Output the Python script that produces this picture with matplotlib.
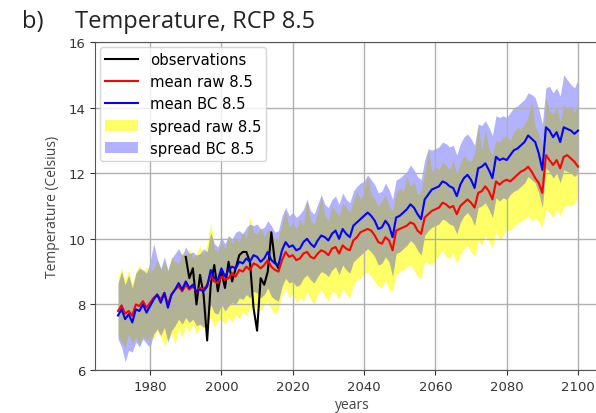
import numpy as np
import matplotlib
matplotlib.use("Agg")
import matplotlib.pyplot as plt

years = np.arange(1971, 2101)
obs_years = np.arange(1990, 2017)

obs = [9.45, 8.8, 9.1, 8.0, 8.9, 8.3, 6.9, 8.6, 9.2, 8.4,
       9.0, 8.5, 9.3, 8.7, 9.1, 9.5, 9.6, 9.6, 9.3, 7.9,
       7.2, 8.8, 8.6, 9.0, 10.2, 9.3, 9.1]

mean_raw = [7.80, 7.97, 7.72, 7.80, 7.65, 8.00, 7.95, 8.10, 7.90, 8.05,
            8.20, 8.30, 8.15, 8.35, 8.00, 8.30, 8.45, 8.55, 8.40, 8.60,
            8.45, 8.55, 8.40, 8.50, 8.45, 8.60, 8.90, 8.70, 8.65, 8.85,
            8.75, 8.80, 8.95, 8.85, 9.05, 9.00, 9.15, 9.05, 9.25, 9.20,
            9.10, 9.20, 9.35, 9.15, 9.05, 9.00, 9.35, 9.60, 9.45, 9.50,
            9.35, 9.40, 9.55, 9.60, 9.45, 9.40, 9.55, 9.65, 9.60, 9.50,
            9.70, 9.75, 9.55, 9.80, 9.70, 9.65, 9.95, 10.05, 10.20, 10.25,
            10.30, 10.25, 10.10, 9.90, 9.85, 10.05, 9.95, 9.65, 10.25, 10.30,
            10.35, 10.40, 10.50, 10.45, 10.25, 10.15, 10.65, 10.75, 10.85, 10.90,
            10.95, 11.10, 11.05, 10.95, 11.00, 10.75, 11.00, 11.10, 11.20, 11.10,
            10.95, 11.40, 11.45, 11.60, 11.45, 11.20, 11.75, 11.65, 11.75, 11.80,
            11.75, 11.85, 11.95, 12.05, 12.10, 12.20, 12.05, 11.85, 11.70, 11.40,
            12.55, 12.40, 12.25, 12.40, 12.15, 12.50, 12.55, 12.45, 12.35, 12.20]

mean_bc = [7.66, 7.85, 7.55, 7.70, 7.45, 7.85, 7.80, 8.00, 7.75, 7.95,
           8.15, 8.30, 8.05, 8.35, 7.90, 8.30, 8.45, 8.65, 8.45, 8.70,
           8.50, 8.60, 8.40, 8.45, 8.40, 8.55, 9.05, 8.80, 8.75, 9.10,
           8.85, 9.05, 9.15, 9.10, 9.30, 9.25, 9.40, 9.30, 9.50, 9.45,
           9.30, 9.40, 9.60, 9.35, 9.25, 9.20, 9.65, 9.90, 9.75, 9.80,
           9.65, 9.70, 9.90, 10.00, 9.85, 9.75, 9.95, 10.10, 10.05, 9.95,
           10.15, 10.25, 10.00, 10.30, 10.15, 10.05, 10.40, 10.50, 10.60, 10.70,
           10.80, 10.70, 10.55, 10.30, 10.35, 10.55, 10.40, 10.05, 10.65, 10.70,
           10.80, 10.90, 11.05, 10.95, 10.75, 10.60, 11.20, 11.35, 11.50, 11.55,
           11.60, 11.75, 11.70, 11.60, 11.55, 11.30, 11.65, 11.85, 11.95, 11.80,
           11.55, 12.15, 12.20, 12.30, 12.10, 11.85, 12.50, 12.40, 12.45, 12.40,
           12.55, 12.70, 12.75, 12.85, 12.95, 13.15, 13.05, 12.95, 12.60, 12.10,
           13.40, 13.30, 13.10, 13.25, 12.95, 13.40, 13.35, 13.30, 13.20, 13.30]

raw_hi = [8.80, 9.10, 8.75, 9.05, 8.60, 9.00, 9.20, 9.00, 9.15, 8.95,
          9.10, 9.35, 9.05, 9.30, 9.00, 9.45, 9.30, 9.25, 9.60, 9.45,
          9.70, 9.40, 9.55, 9.80, 9.50, 9.85, 10.50, 9.70, 9.60, 9.90,
          9.70, 10.10, 9.85, 10.05, 9.90, 10.25, 10.00, 10.65, 10.20, 10.15,
          10.35, 10.05, 10.30, 10.20, 9.95, 10.05, 10.45, 10.85, 10.35, 10.50,
          10.30, 10.60, 10.40, 11.25, 10.55, 10.45, 10.80, 11.30, 10.70, 10.55,
          11.00, 10.85, 10.70, 11.10, 10.95, 10.80, 11.15, 11.45, 11.20, 11.40,
          11.90, 11.35, 11.20, 11.00, 11.15, 11.35, 11.00, 10.85, 11.40, 11.55,
          11.45, 11.90, 11.60, 11.75, 11.35, 11.45, 12.00, 12.70, 12.05, 12.20,
          12.10, 12.35, 12.25, 12.10, 12.40, 12.00, 12.30, 12.55, 12.40, 12.35,
          12.60, 13.45, 12.70, 13.30, 12.75, 12.55, 13.00, 12.95, 13.10, 13.15,
          13.00, 13.25, 13.40, 13.35, 13.50, 13.70, 14.20, 13.40, 13.20, 12.80,
          14.30, 13.90, 13.80, 14.00, 13.55, 14.10, 13.95, 14.05, 13.85, 14.05]

raw_lo = [7.05, 6.85, 6.70, 7.10, 6.80, 7.00, 6.75, 7.05, 6.90, 7.05,
          6.95, 7.20, 7.00, 6.75, 6.95, 7.10, 6.80, 7.25, 7.00, 7.35,
          7.15, 7.40, 7.10, 7.35, 7.25, 7.45, 7.60, 7.30, 7.50, 7.55,
          7.40, 7.60, 7.45, 7.70, 7.55, 7.80, 7.65, 7.90, 7.75, 7.95,
          7.80, 8.00, 8.10, 7.85, 7.70, 7.85, 8.30, 8.50, 8.20, 8.35,
          8.05, 8.20, 8.10, 8.40, 8.15, 8.00, 8.30, 8.45, 8.25, 8.10,
          8.40, 8.35, 8.15, 8.50, 8.30, 8.20, 8.60, 8.75, 8.80, 8.95,
          9.00, 8.85, 8.70, 8.55, 8.50, 8.75, 8.45, 8.40, 8.90, 9.00,
          9.05, 9.15, 9.20, 9.05, 8.85, 8.80, 9.30, 9.25, 9.20, 9.35,
          9.50, 9.65, 9.45, 9.40, 9.55, 9.25, 9.50, 9.70, 9.80, 9.60,
          9.45, 9.95, 9.80, 10.10, 9.95, 9.70, 10.20, 9.95, 10.10, 10.30,
          10.25, 10.40, 10.45, 10.55, 10.60, 10.70, 10.55, 10.65, 10.50, 10.35,
          10.90, 10.80, 10.65, 10.90, 10.70, 10.95, 11.05, 11.00, 11.10, 11.25]

bc_hi = [8.65, 9.00, 8.60, 8.90, 8.50, 8.95, 9.10, 9.05, 8.95, 9.30,
         9.85, 9.40, 9.10, 9.45, 9.05, 9.40, 9.55, 9.70, 9.50, 9.75,
         9.55, 9.60, 9.50, 9.55, 9.70, 9.60, 10.20, 9.85, 9.75, 10.05,
         9.85, 10.10, 10.00, 10.20, 10.25, 10.15, 10.35, 10.45, 10.40, 10.45,
         10.30, 10.35, 10.55, 10.40, 10.20, 10.25, 10.70, 10.95, 10.70, 10.80,
         10.65, 10.75, 10.90, 11.20, 10.85, 10.75, 11.05, 11.35, 11.05, 10.95,
         11.20, 11.30, 11.05, 11.40, 11.20, 11.10, 11.45, 11.60, 11.70, 11.75,
         11.95, 11.80, 11.65, 11.40, 11.45, 11.70, 11.50, 11.20, 11.80, 11.85,
         11.95, 12.05, 12.25, 12.10, 11.90, 11.80, 12.40, 12.75, 12.70, 12.75,
         12.80, 12.95, 12.90, 12.80, 12.85, 12.55, 12.90, 13.10, 13.20, 13.05,
         12.85, 13.50, 13.45, 13.60, 13.40, 13.15, 13.75, 13.70, 13.75, 13.70,
         13.85, 14.00, 14.05, 14.15, 14.25, 14.45, 14.40, 14.30, 13.95, 13.50,
         14.60, 14.65, 14.45, 14.60, 14.35, 15.00, 14.85, 14.70, 14.60, 14.85]

bc_lo = [6.95, 6.70, 6.25, 6.60, 6.55, 6.85, 6.70, 6.95, 6.80, 6.70,
         7.10, 7.25, 7.05, 7.30, 6.85, 7.20, 7.35, 7.55, 7.40, 7.60,
         7.45, 7.55, 7.35, 7.40, 7.30, 7.45, 8.00, 7.75, 7.70, 8.00,
         7.80, 7.95, 8.05, 8.00, 8.20, 8.15, 8.30, 8.20, 8.40, 8.35,
         8.20, 8.30, 8.50, 8.25, 8.15, 8.10, 8.55, 8.80, 8.65, 8.70,
         8.55, 8.60, 8.80, 8.90, 8.75, 8.65, 8.85, 9.00, 8.95, 8.85,
         9.05, 9.15, 8.90, 9.20, 9.05, 8.95, 9.30, 9.40, 9.50, 9.60,
         9.70, 9.60, 9.45, 9.20, 9.25, 9.45, 9.30, 8.85, 9.55, 9.60,
         9.70, 9.80, 9.95, 9.85, 9.65, 9.50, 10.10, 10.25, 10.35, 10.40,
         10.45, 10.60, 10.55, 10.45, 10.40, 10.15, 10.50, 10.70, 10.80, 10.65,
         10.40, 10.95, 11.00, 11.10, 10.90, 10.65, 11.25, 11.15, 11.25, 11.20,
         11.35, 11.45, 11.50, 11.60, 11.70, 11.90, 11.80, 11.70, 11.40, 10.95,
         12.15, 12.05, 11.85, 12.00, 11.70, 12.10, 12.05, 12.00, 11.90, 12.00]

fig = plt.figure(figsize=(5.96, 4.14), dpi=100)
# axes run past the right edge of the figure, as in the cropped original
ax = fig.add_axes([95 / 596, 43 / 414, 515 / 596, 328 / 414])

ax.plot(obs_years, obs, "k", lw=1.5, label="observations")
ax.plot(years, mean_raw, "r", lw=1.5, label="mean raw 8.5")
ax.plot(years, mean_bc, "b", lw=1.5, label="mean BC 8.5")
ax.fill_between(years, raw_lo, raw_hi, color="yellow", alpha=0.6, lw=0, label="spread raw 8.5")
ax.fill_between(years, bc_lo, bc_hi, color="blue", alpha=0.3, lw=0, label="spread BC 8.5")

ax.set_xlim(1964.55, 2108.97)
ax.set_ylim(6, 16)
ax.set_xticks(np.arange(1980, 2101, 20))
ax.set_yticks(np.arange(6, 17, 2))
ax.tick_params(labelsize=9.5, colors="#333333")
ax.grid(True, color="#b0b0b0", lw=1)
for s in ax.spines.values():
    s.set_color("#555555")
ax.spines["right"].set_visible(False)
ax.set_ylabel("Temperature (Celsius)", fontsize=10, family="Open Sans", color="#444444", labelpad=6)
ax.set_xlabel("years", fontsize=10, family="Open Sans", color="#444444", labelpad=3)
ax.legend(loc="upper left", fontsize=10.7, handlelength=2.2, labelspacing=0.48,
          borderaxespad=0.33, borderpad=0.35)

fig.text(22 / 596, 1 - 28 / 414, "b)", fontsize=17, family="Open Sans", color="#222222")
fig.text(75 / 596, 1 - 28 / 414, "Temperature, RCP 8.5", fontsize=17, family="Open Sans", color="#222222")

fig.savefig("out.png", dpi=100)
